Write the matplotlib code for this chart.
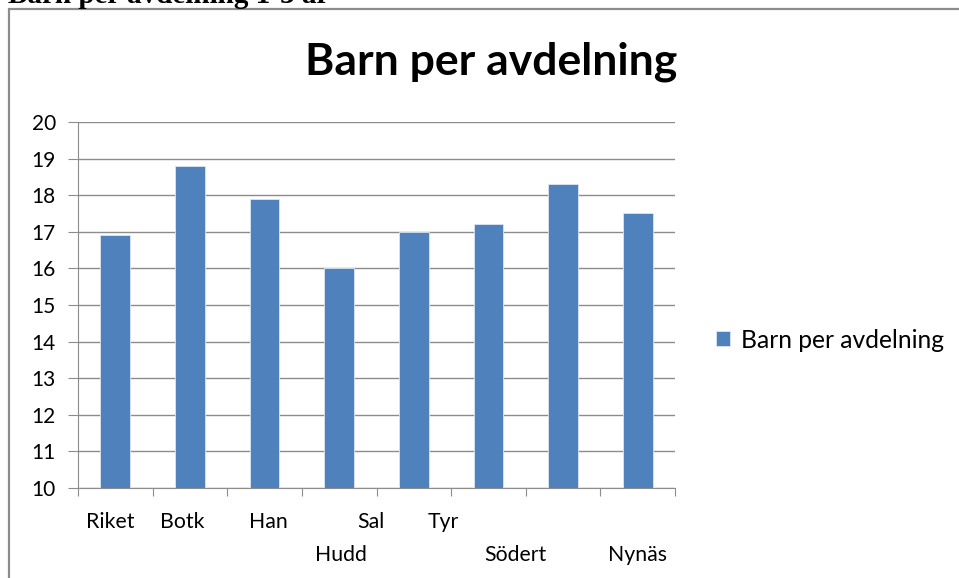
import matplotlib
matplotlib.use("Agg")
import matplotlib.pyplot as plt
from matplotlib.patches import Rectangle

# Data
values = [16.9, 18.8, 17.9, 16.0, 17.0, 17.2, 18.3, 17.5]
labels = ["Riket", "Botk", "Han", "Hudd", "Sal", "Tyr", "Södert", "Nynäs"]
label_pos = [-0.07, 0.9, 2.05, 3.03, 3.43, 4.4, 5.36, 7.0]
label_row = [0, 0, 0, 1, 0, 0, 1, 1]
yticks = list(range(10, 21))
series_name = "Barn per avdelning"
title = "Barn per avdelning"
header = "Barn per avdelning 1-3 år"

W, H = 959, 578
fig = plt.figure(figsize=(W / 100, H / 100), dpi=100)
font = ["Lato", "DejaVu Sans"]

# outer frame
fig.patches.append(Rectangle((9 / W, -0.01), 1.0, (H - 9) / H + 0.01, transform=fig.transFigure,
                             fill=False, edgecolor="#8c8c8c", linewidth=1.6))

ax = fig.add_axes([78 / W, (H - 488) / H, (675 - 78) / W, (488 - 122) / H])
x = list(range(len(values)))
ax.bar(x, values, width=0.4, color="#4F81BD", edgecolor="#dce6f2", linewidth=0.6, zorder=3,
       label=series_name)
ax.set_xlim(-0.5, len(values) - 0.5)
ax.set_ylim(10, 20)
ax.set_yticks(yticks)
ax.set_yticklabels([str(t) for t in yticks], fontsize=15, family=font)
ax.yaxis.grid(True, color="#8c8c8c", linewidth=1.0, zorder=0)
ax.set_xticks([i - 0.5 for i in range(len(values) + 1)])
ax.set_xticklabels([])
ax.tick_params(axis="x", length=6, color="#8c8c8c", direction="out")
ax.tick_params(axis="y", length=7, color="#8c8c8c", direction="out", pad=9)
for s in ["top", "right"]:
    ax.spines[s].set_visible(False)
for s in ["left", "bottom"]:
    ax.spines[s].set_color("#8c8c8c")
for lab, p, r in zip(labels, label_pos, label_row):
    ax.text(p, -0.093 - r * 0.09, lab, transform=ax.get_xaxis_transform(), ha="center",
            va="center", fontsize=15.3, family=font, color="#000000")

fig.text(491 / W, 1 - 62 / H, title, ha="center", va="center", fontsize=32, fontweight="bold",
         family=font)
fig.text(8 / W, 1 - 3 / H, header, ha="left", va="baseline", fontsize=21, fontweight="bold",
         family=["Liberation Serif"])

leg = ax.legend(loc="center left", frameon=False,
                prop={"family": font, "size": 17.7}, handlelength=0.58, handleheight=0.58,
                handletextpad=0.45, borderaxespad=0, borderpad=0)
leg.set_bbox_to_anchor((716 / W, 1 - 340 / H), transform=fig.transFigure)

fig.savefig("out.png", dpi=100)
